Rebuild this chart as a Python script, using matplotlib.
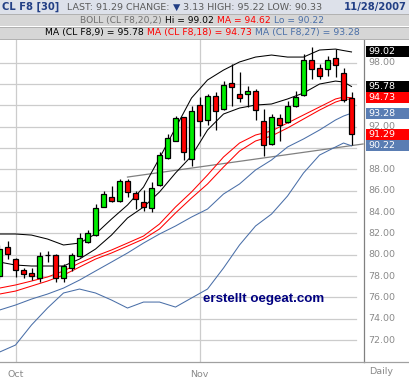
import matplotlib
matplotlib.use('Agg')
import matplotlib.pyplot as plt
from matplotlib.patches import Rectangle
from matplotlib.lines import Line2D
from matplotlib import transforms

# daily candles CL F8, 27 Sep .. 28 Nov 2007 (index 0..44)
opens = [77.99, 80.71, 79.58, 78.55, 78.27, 77.80, 79.96, 79.96, 77.80, 78.74,
         79.86, 81.18, 81.83, 84.46, 85.39, 85.02, 86.89, 85.77, 84.93, 84.36,
         86.52, 89.05, 90.64, 92.89, 88.96, 94.02, 92.61, 94.86, 93.64, 96.08,
         95.05, 95.05, 95.33, 92.52, 90.36, 92.80, 92.42, 93.92, 94.95, 98.23,
         97.48, 97.39, 98.42, 97.02, 94.67]
highs = [80.90, 81.27, 79.68, 78.74, 78.74, 80.24, 80.33, 80.05, 79.12, 80.15,
         82.02, 82.30, 84.74, 85.96, 86.43, 87.08, 87.08, 85.96, 86.05, 86.80,
         89.61, 91.30, 92.99, 92.89, 93.92, 94.77, 95.05, 95.24, 96.27, 97.86,
         97.11, 95.80, 95.52, 93.64, 93.17, 93.17, 94.39, 95.33, 98.80, 99.45,
         97.86, 98.61, 99.27, 97.48, 95.22]
lows = [77.71, 79.58, 77.90, 77.80, 77.62, 77.43, 79.30, 77.43, 77.43, 78.46,
        79.77, 81.08, 81.74, 84.46, 84.93, 84.93, 85.39, 84.27, 84.08, 83.99,
        86.43, 88.96, 90.64, 88.86, 88.30, 91.11, 92.14, 91.67, 93.55, 93.92,
        94.30, 93.83, 92.61, 89.24, 90.27, 90.64, 92.33, 93.83, 94.86, 96.45,
        96.45, 96.73, 96.64, 94.30, 90.33]
closes = [80.52, 80.05, 78.55, 78.18, 77.99, 79.86, 79.96, 77.80, 78.93, 79.96,
          81.55, 82.02, 84.36, 85.68, 85.02, 86.89, 85.86, 85.21, 84.46, 86.24,
          89.33, 90.92, 92.80, 89.61, 93.45, 92.52, 94.86, 93.45, 95.89, 95.70,
          94.67, 95.33, 93.55, 90.27, 92.89, 92.14, 93.92, 94.77, 98.23, 97.39,
          96.73, 98.23, 97.77, 94.49, 91.29]

# indicator lines, read at these candle positions
line_idx = [0, 2, 4, 6, 8, 10, 12, 14, 16, 18, 20, 22, 24, 26, 28, 30, 32,
            34, 36, 38, 40, 42, 43, 44]
boll_hi = [81.95, 81.95, 81.85, 81.48, 80.92, 81.10, 81.95, 83.35, 84.67, 86.35,
           89.07, 91.89, 94.70, 96.39, 97.32, 98.08, 98.54, 98.73, 98.54, 98.54,
           99.20, 99.29, 99.15, 99.02]
boll_mid = [76.32, 76.60, 77.07, 77.54, 78.10, 78.85, 79.60, 80.17, 80.82, 81.48,
            82.42, 83.92, 85.32, 86.64, 88.23, 89.73, 90.67, 91.14, 91.89, 92.73,
            93.57, 94.32, 94.56, 94.62]
boll_lo = [70.88, 71.54, 73.42, 75.01, 76.42, 76.79, 76.42, 75.76, 75.01, 75.57,
           75.57, 75.10, 75.95, 76.79, 78.76, 80.92, 82.70, 83.82, 85.51, 87.67,
           89.35, 90.11, 90.48, 90.22]
ma9 = [79.32, 79.04, 78.95, 78.95, 78.95, 79.60, 80.54, 81.85, 83.45, 84.48,
       85.89, 87.67, 89.26, 91.70, 93.20, 93.76, 94.04, 94.14, 94.61, 95.17,
       96.01, 96.29, 96.20, 95.78]
ma18 = [76.88, 77.17, 77.54, 77.92, 78.48, 79.23, 79.88, 80.45, 81.10, 81.76,
        82.89, 84.48, 85.89, 87.48, 89.17, 90.48, 91.23, 91.61, 92.36, 93.11,
        93.86, 94.61, 94.79, 94.73]
ma27 = [74.82, 75.29, 75.85, 76.32, 76.88, 77.63, 78.48, 79.32, 80.17, 81.10,
        81.95, 82.70, 83.54, 84.29, 85.70, 86.64, 87.95, 88.89, 90.11, 90.86,
        91.70, 92.64, 93.01, 93.28]

# trend line (start / end)
trend_x = [16, 45.44]
trend_y = [87.29, 90.39]

month_idx = [2, 25]
month_labels = ['Oct', 'Nov']
grid_prices = [72, 74, 76, 78, 80, 82, 84, 86, 88, 90, 92, 94, 96, 98]
# 90, 94 and 96 sit under the value boxes and can't be seen
label_prices = [72, 74, 76, 78, 80, 82, 84, 86, 88, 92, 98]

# value boxes on the right: (value, colour)
tags = [(99.02, '#000000'), (95.78, '#000000'), (94.73, '#ff0000'),
        (93.28, '#5a7db3'), (91.29, '#ff0000'), (90.22, '#5a7db3')]

BLUE = '#4a6fa8'
GRAY_TXT = '#8a8a8a'
W, H = 410, 379

fig = plt.figure(figsize=(W / 100, H / 100), dpi=100)
fig.patch.set_facecolor('white')
ax = fig.add_axes([0, (H - 362) / H, 364 / W, 322 / H])
ax.set_xlim(0.0625, 45.56)
ax.set_ylim(69.95, 100.14)
ax.set_xticks([])
ax.set_yticks([])
for s in ['top', 'left']:
    ax.spines[s].set_visible(False)
ax.spines['right'].set_color('#808080')
ax.spines['bottom'].set_color('#a0a0a0')
for s in ['right', 'bottom']:
    ax.spines[s].set_linewidth(0.9)

# grid
for p in grid_prices:
    ax.axhline(p, xmin=0, xmax=356 / 364, color='#cccccc', lw=0.9, zorder=0)
for i in month_idx:
    ax.axvline(i, color='#cccccc', lw=0.9, zorder=0)

# lines
lw = 0.75
ax.plot(trend_x, trend_y, color='#808080', lw=0.9, zorder=1)
ax.plot(line_idx, boll_lo, color=BLUE, lw=lw, zorder=2)
ax.plot(line_idx, ma27, color=BLUE, lw=lw, zorder=2)
ax.plot(line_idx, boll_mid, color='#ff0000', lw=lw, zorder=2)
ax.plot(line_idx, ma18, color='#ff0000', lw=lw, zorder=2)
ax.plot(line_idx, ma9, color='black', lw=lw, zorder=2)
ax.plot(line_idx, boll_hi, color='black', lw=lw, zorder=2)

# candles
idx = list(range(len(opens)))
ax.vlines(idx, lows, highs, color='black', lw=0.9, zorder=3)
body_col = ['#00ee00' if c >= o else '#ff0000' for o, c in zip(opens, closes)]
ax.bar(idx, [c - o for o, c in zip(opens, closes)], bottom=opens, width=0.72,
       color=body_col, edgecolor='black', linewidth=0.9, zorder=4)

# watermark
ax.text(25.4, 75.85, 'erstellt oegeat.com', color='#000080', fontsize=9.6,
        fontweight='bold', family='Liberation Sans', va='center', ha='left', zorder=5)

# right price labels and value boxes
tr = transforms.blended_transform_factory(fig.transFigure, ax.transData)
for p in label_prices:
    fig.text(368 / W, p, '%.2f' % p, color=GRAY_TXT, fontsize=6.8, va='center',
             transform=tr)
bh = 11 / 10.665
for v, c in tags:
    fig.add_artist(Rectangle((366 / W, v - bh / 2), 44 / W, bh, transform=tr,
                             facecolor=c, edgecolor='none', zorder=4))
    fig.text(368 / W, v, '%.2f' % v, color='white', fontsize=6.8, va='center',
             transform=tr, zorder=5)

# x labels
for i, lab in zip(month_idx, month_labels):
    ax.text(i, 68.8, lab, color=GRAY_TXT, fontsize=6.8, ha='center', va='center')
fig.text(369 / W, 1 - 371 / H, 'Daily', color=GRAY_TXT, fontsize=6.8, va='center')
fig.add_artist(Line2D([364 / W, 1], [(H - 362) / H] * 2, color='#a0a0a0', lw=0.9))

# header bands
fig.add_artist(Rectangle((0, 1 - 14 / H), 1, 14 / H, facecolor='#dde1ea', edgecolor='none'))
fig.add_artist(Rectangle((0, 1 - 26 / H), 1, 11 / H, facecolor='#d6d6d6', edgecolor='none'))
fig.add_artist(Rectangle((0, 1 - 39 / H), 1, 12 / H, facecolor='#d6d6d6', edgecolor='none'))
for yy in [14, 26.5, 39]:
    fig.add_artist(Line2D([0, 1], [1 - yy / H] * 2, color='#b0b0b0', lw=0.7))


def put_parts(x_px, y_px, parts, size, align='left'):
    r = fig.canvas.get_renderer()
    gap = size / 72 * 100 * 0.32
    made = []
    for s, c, bold in parts:
        t = fig.text(0, 1 - y_px / H, s, color=c, fontsize=size,
                     fontweight='bold' if bold else 'normal', va='center', ha='left')
        made.append((t, t.get_window_extent(r).width))
    total = sum(w for _, w in made) + gap * (len(made) - 1)
    if align == 'center':
        x = x_px - total / 2
    elif align == 'right':
        x = x_px - total
    else:
        x = x_px
    for t, w in made:
        t.set_x(x / W)
        x += w + gap


NAVY = '#223f85'
put_parts(2, 7, [('CL F8 [30]', NAVY, True)], 7.2)
put_parts(67, 7, [('LAST: 91.29 CHANGE:', '#5a5a5a', False), ('\u25bc', NAVY, False),
                  ('3.13 HIGH: 95.22 LOW: 90.33', '#5a5a5a', False)], 6.8)
put_parts(407, 7, [('11/28/2007', NAVY, True)], 7.2, align='right')
put_parts(202, 20.5, [('BOLL (CL F8,20,2)', '#707070', False), ('Hi = 99.02', 'black', False),
                      ('MA = 94.62', '#ff0000', False), ('Lo = 90.22', BLUE, False)], 6.6, align='center')
put_parts(202.5, 33, [('MA (CL F8,9) = 95.78', 'black', False), ('MA (CL F8,18) = 94.73', '#ff0000', False),
                      ('MA (CL F8,27) = 93.28', BLUE, False)], 6.7, align='center')

fig.savefig('out.png', dpi=100)
